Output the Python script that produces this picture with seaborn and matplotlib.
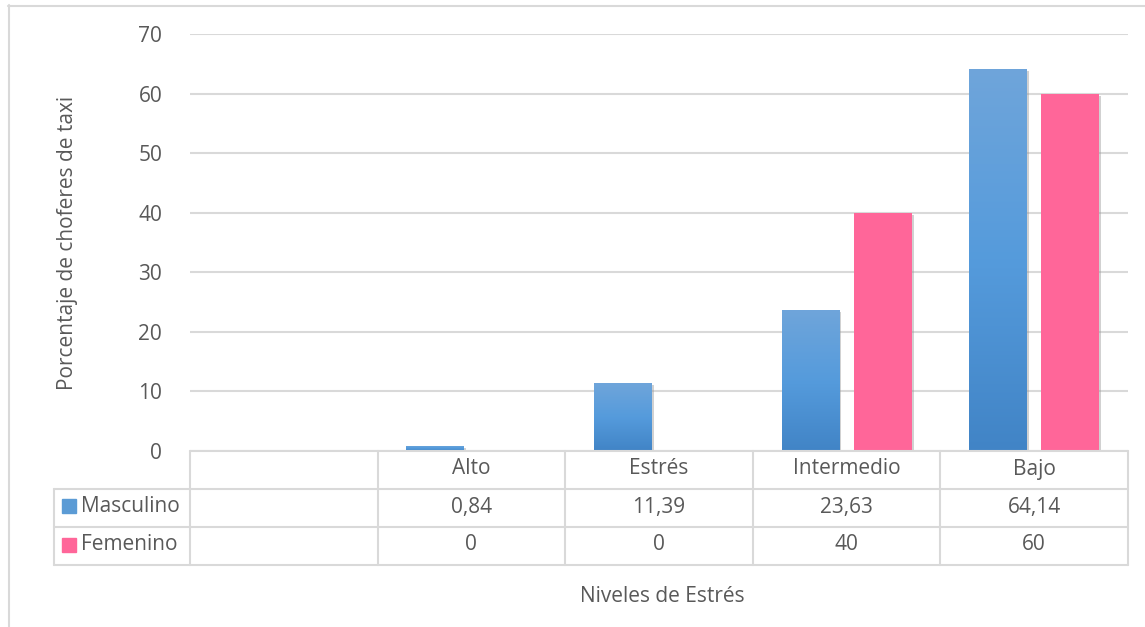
import numpy as np
import pandas as pd
import seaborn as sns
import matplotlib.pyplot as plt
from matplotlib.lines import Line2D
from matplotlib.patches import Rectangle
from matplotlib import patheffects as pe

# data
categorias = ['', 'Alto', 'Estrés', 'Intermedio', 'Bajo']
niveles = ['Alto', 'Estrés', 'Intermedio', 'Bajo']
masculino = [0.84, 11.39, 23.63, 64.14]
femenino = [0, 0, 40, 60]
etiq_masc = ['0,84', '11,39', '23,63', '64,14']
etiq_fem = ['0', '0', '40', '60']

df = pd.DataFrame({
    'nivel': niveles * 2,
    'pct': masculino + femenino,
    'sexo': ['Masculino'] * 4 + ['Femenino'] * 4,
})

gris = '#595959'
linea = '#D9D9D9'
azul = '#5B9BD5'
rosa = '#FF6699'

sns.set_style('white')
plt.rcParams['font.family'] = ['Open Sans', 'DejaVu Sans']

W, H = 1145, 627
fig = plt.figure(figsize=(W / 100, H / 100), dpi=100)
x0, x1, ytop, ybot = 190, 1128, 34, 451
ax = fig.add_axes([x0 / W, 1 - ybot / H, (x1 - x0) / W, (ybot - ytop) / H])

sns.barplot(data=df, x='nivel', y='pct', hue='sexo', order=categorias,
            hue_order=['Masculino', 'Femenino'],
            palette={'Masculino': azul, 'Femenino': rosa}, saturation=1,
            width=0.77, gap=0.2, legend=False, linewidth=0, ax=ax, zorder=3)

# gradient + soft shadow on the bars
grad = np.linspace(0, 1, 256).reshape(-1, 1)
cmap = sns.blend_palette(['#4184C6', '#559BDC', '#6FA5DA'], as_cmap=True)
for p in ax.patches:
    if p.get_height() <= 0:
        continue
    p.set_path_effects([pe.SimplePatchShadow(offset=(1.5, -1.5), shadow_rgbFace='#9a9a9a', alpha=0.45),
                        pe.Normal()])
    r, g, b, _ = p.get_facecolor()
    if b > r:
        bx, by = p.get_x(), p.get_y()
        im = ax.imshow(grad, cmap=cmap, aspect='auto', origin='lower',
                       extent=[bx, bx + p.get_width(), by, by + p.get_height()], zorder=4)
        im.set_clip_path(p)

ax.set_xlim(-0.5, 4.5)
ax.set_ylim(0, 70)
ax.set_yticks(range(0, 71, 10))
ax.yaxis.grid(True, color=linea, linewidth=1.5, zorder=0)
ax.set_axisbelow(True)
ax.tick_params(axis='y', length=0, pad=20, labelsize=15, labelcolor=gris)
ax.set_xticks([])
ax.set_xlabel('')
ax.set_ylabel('')
sns.despine(ax=ax, left=True, bottom=True)

# data table below the plot (figure pixel coordinates)
def fx(px):
    return px / W

def fy(py):
    return 1 - py / H

bordes = [x0 + i * (x1 - x0) / 5 for i in range(6)]
filas = [451, 489, 527, 565]
lw = 1.5
fig.add_artist(Line2D([fx(x0), fx(x1)], [fy(451), fy(451)], color=linea, lw=lw))
for py in filas[1:]:
    fig.add_artist(Line2D([fx(54), fx(x1)], [fy(py), fy(py)], color=linea, lw=lw))
fig.add_artist(Line2D([fx(54), fx(54)], [fy(489), fy(565)], color=linea, lw=lw))
for bx in bordes:
    fig.add_artist(Line2D([fx(bx), fx(bx)], [fy(451), fy(565)], color=linea, lw=lw))

fs = 15
for i, cat in enumerate(categorias):
    cx = (bordes[i] + bordes[i + 1]) / 2
    fig.text(fx(cx), fy(469), cat, ha='center', va='center', fontsize=fs, color=gris)
for i in range(4):
    cx = (bordes[i + 1] + bordes[i + 2]) / 2
    fig.text(fx(cx), fy(507), etiq_masc[i], ha='center', va='center', fontsize=fs, color=gris)
    fig.text(fx(cx), fy(545), etiq_fem[i], ha='center', va='center', fontsize=fs, color=gris)

# legend keys inside the table
for py, col, nom in [(506, azul, 'Masculino'), (545, rosa, 'Femenino')]:
    fig.add_artist(Rectangle((fx(62), fy(py + 7)), 14 / W, 14 / H, color=col))
    fig.text(fx(81), fy(py), nom, ha='left', va='center', fontsize=fs, color=gris)

# axis titles
fig.text(fx(68), fy(243), 'Porcentaje de choferes de taxi', rotation=90,
         ha='center', va='center', fontsize=fs, color=gris)
fig.text(fx(662), fy(596), 'Niveles de Estrés', ha='center', va='center',
         fontsize=fs, color=gris)

# outer chart frame (only top and left visible)
fig.add_artist(Line2D([fx(8), fx(W + 5)], [fy(5.5), fy(5.5)], color=linea, lw=1.5))
fig.add_artist(Line2D([fx(8.5), fx(8.5)], [fy(5), fy(H + 5)], color=linea, lw=1.5))

fig.savefig('out.png', dpi=100)
